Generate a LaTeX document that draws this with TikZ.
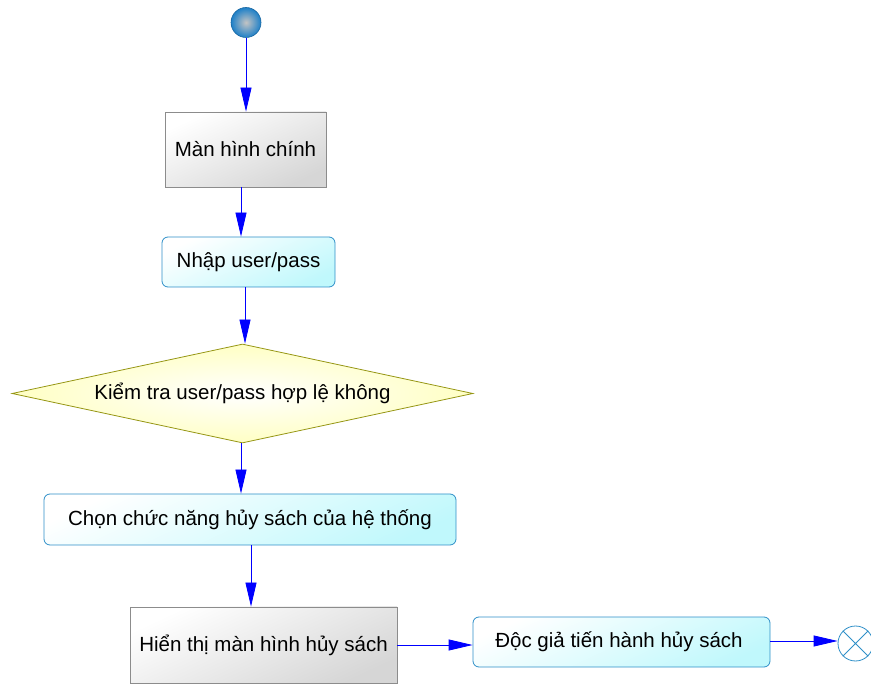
\documentclass[tikz,border=0pt]{standalone}
\usepackage{fontspec}
\setmainfont{Liberation Sans}
\usetikzlibrary{shapes.geometric,arrows.meta}

\definecolor{flowblue}{RGB}{0,0,255}
\definecolor{boxedge}{RGB}{46,143,200}
\definecolor{cyanfill}{RGB}{192,248,252}
\definecolor{grayedge}{RGB}{140,140,140}
\definecolor{grayfill}{RGB}{214,214,214}
\definecolor{diaedge}{RGB}{150,150,20}
\definecolor{diafill}{RGB}{255,255,196}
\definecolor{ballout}{RGB}{30,128,200}
\definecolor{ballin}{RGB}{196,196,196}

\tikzset{
  lbl/.style={font=\fontsize{20.5}{23}\selectfont, text=black},
  screen/.style={lbl, rectangle, draw=grayedge, line width=0.8pt, inner sep=0pt,
    top color=white, bottom color=grayfill, shading angle=25},
  action/.style={lbl, rectangle, rounded corners=6pt, draw=boxedge, line width=0.8pt, inner sep=0pt,
    top color=white, bottom color=cyanfill, shading angle=25},
  decision/.style={lbl, diamond, aspect=4.66, draw=diaedge, line width=0.8pt, inner sep=0pt,
    inner color=white, outer color=diafill},
  flow/.style={draw=flowblue, line width=0.8pt, -{Triangle[length=24pt,width=11pt]}},
}

\begin{document}
\begin{tikzpicture}[x=1pt, y=-1pt]
  \useasboundingbox (0,0) rectangle (871,684);

  % start and end markers
  \node (start) [circle, minimum size=30pt, inner sep=0pt, draw=ballout!80!black, line width=0.6pt,
    inner color=ballin, outer color=ballout] at (246,22.5) {};
  \node (stop) [circle, minimum size=35pt, inner sep=0pt, draw=boxedge, line width=0.8pt, fill=white]
    at (855.5,643.5) {};
  \draw[boxedge, line width=0.8pt] (stop.north west) -- (stop.south east)
    (stop.north east) -- (stop.south west);

  % steps
  \node (main)   [screen, minimum width=161pt, minimum height=75pt] at (245.5,149.5) {Màn hình chính};
  \node (login)  [action, minimum width=173pt, minimum height=50pt] at (248.5,262) {Nhập user/pass};
  \node (check)  [decision, minimum width=461pt, minimum height=99pt] at (242.5,393.5) {Kiểm tra user/pass hợp lệ không};
  \node (choose) [action, minimum width=412pt, minimum height=51pt] at (250,519.5) {Chọn chức năng hủy sách của hệ thống};
  \node (show)   [screen, minimum width=267pt, minimum height=76pt] at (263.5,645) {Hiển thị màn hình hủy sách};
  \node (reader) [action, minimum width=297pt, minimum height=50pt] at (621.5,642) {\hspace*{-5pt}Độc giả tiến hành hủy sách};

  % connectors
  \draw[flow] (start) -- (start |- main.north);
  \draw[flow] ([xshift=-4.5pt]main.south) -- ([xshift=-4.5pt]main.south |- login.north);
  \draw[flow] ([xshift=-3.5pt]login.south) -- ([xshift=-3.5pt]login.south |- check.north);
  \draw[flow] ([xshift=-1.5pt]check.south) -- ([xshift=-1.5pt]check.south |- choose.north);
  \draw[flow] ([xshift=1pt]choose.south) -- ([xshift=1pt]choose.south |- show.north);
  \draw[flow] (show.east) -- (show.east -| reader.west);
  \draw[flow] ([yshift=1pt]reader.east) -- ([yshift=1pt]reader.east -| stop.west);
\end{tikzpicture}
\end{document}
